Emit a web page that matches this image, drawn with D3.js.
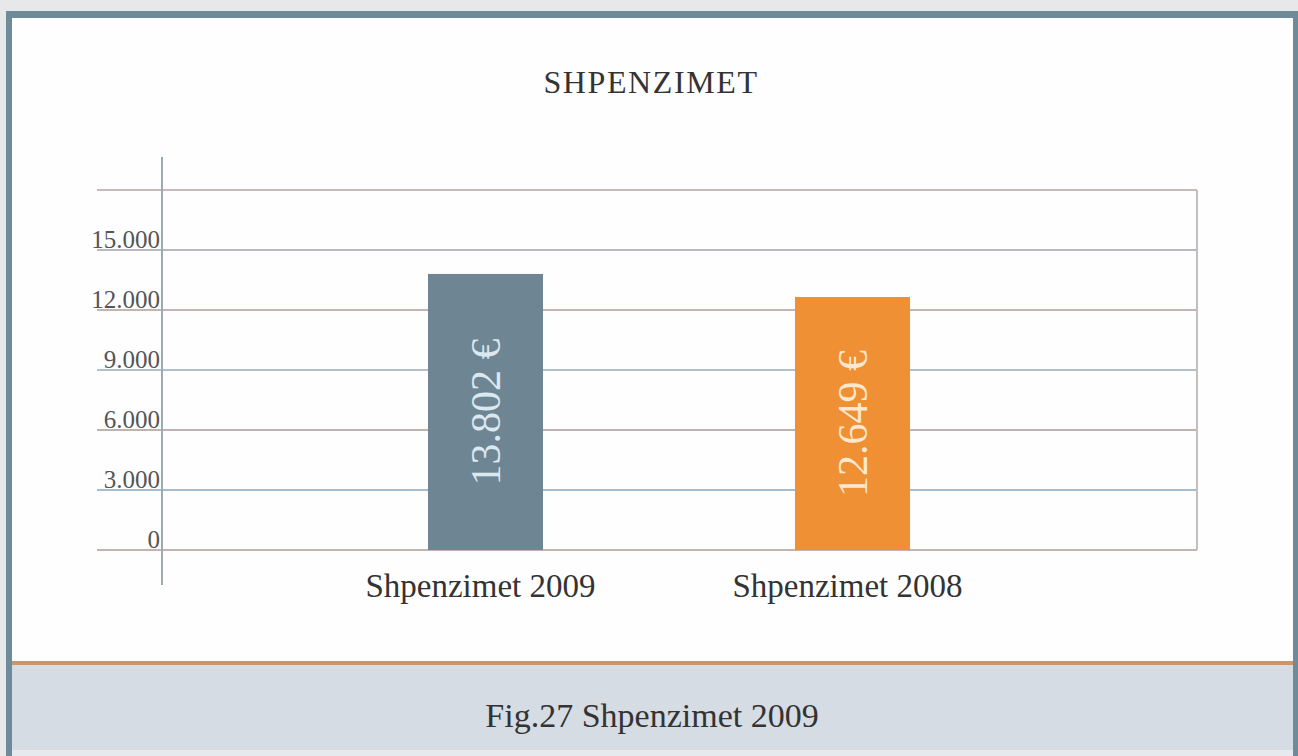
<!DOCTYPE html>
<html>
<head>
<meta charset="utf-8">
<script src="https://cdn.jsdelivr.net/npm/d3@7/dist/d3.min.js"></script>
<style>
  html, body { margin: 0; padding: 0; background: #e7e8ea; }
  svg { display: block; }
  text { font-family: "Liberation Serif", "DejaVu Serif", serif; }
</style>
</head>
<body>
<svg id="chart" width="1298" height="756"></svg>
<script>
// ---- data ----
const categories = ["Shpenzimet 2009", "Shpenzimet 2008"];
const values = [13802, 12649];
const valueLabels = ["13.802 €", "12.649 €"];
const tickValues = [0, 3000, 6000, 9000, 12000, 15000, 18000];
const tickLabels = ["0", "3.000", "6.000", "9.000", "12.000", "15.000", ""];
const title = "SHPENZIMET";
const caption = "Fig.27 Shpenzimet 2009";

// ---- layout ----
const W = 1298, H = 756;
const svg = d3.select("#chart");

// frame
svg.append("rect").attr("x", 0).attr("y", 0).attr("width", W).attr("height", H).attr("fill", "#e7e8ea");
svg.append("rect").attr("x", 6).attr("y", 11).attr("width", W - 6).attr("height", H - 11).attr("fill", "#6f8b99");
svg.append("rect").attr("x", 12).attr("y", 18).attr("width", 1281).attr("height", H - 18).attr("fill", "#fefefe");
// caption area
svg.append("rect").attr("x", 12).attr("y", 664).attr("width", 1281).attr("height", 86).attr("fill", "#d6dce3");
svg.append("rect").attr("x", 12).attr("y", 750).attr("width", 1281).attr("height", 6).attr("fill", "#e6e9ee");
svg.append("rect").attr("x", 12).attr("y", 661).attr("width", 1281).attr("height", 4).attr("fill", "#c9956c");

svg.append("text")
  .attr("x", 652).attr("y", 727)
  .attr("text-anchor", "middle")
  .attr("font-size", 34)
  .attr("fill", "#333")
  .text(caption);

// title
svg.append("text")
  .attr("x", 651).attr("y", 93)
  .attr("text-anchor", "middle")
  .attr("font-size", 32)
  .attr("letter-spacing", 1.6)
  .attr("fill", "#333")
  .text(title);

// scales
const y = d3.scaleLinear().domain([0, 18000]).range([550, 190]);
const x = d3.scaleBand().domain(categories).range([302, 1036]).paddingInner(0.6866).paddingOuter(0.3433);

const gridLeft = 97, axisX = 162, gridRight = 1197;
const gridColors = ["#c5b4ad", "#a9bccc", "#c0b3ae", "#b3c0ca", "#c6b5ae", "#b8b9be", "#c8bbb6"];

// gridlines
svg.append("g").selectAll("line").data(tickValues).join("line")
  .attr("x1", gridLeft).attr("x2", gridRight)
  .attr("y1", d => y(d)).attr("y2", d => y(d))
  .attr("stroke", (d, i) => gridColors[i])
  .attr("stroke-width", 2);

// right border of plot
svg.append("line")
  .attr("x1", gridRight).attr("x2", gridRight)
  .attr("y1", y(18000)).attr("y2", y(0))
  .attr("stroke", "#c3bfbf").attr("stroke-width", 2);

// y axis (labels via d3 axis, line drawn separately)
const yAxis = d3.axisLeft(y).tickValues(tickValues).tickSize(0).tickPadding(0)
  .tickFormat((d, i) => tickLabels[i]);
const gy = svg.append("g").attr("transform", `translate(${axisX - 2},0)`).call(yAxis);
gy.select(".domain").remove();
gy.selectAll("text")
  .attr("font-family", "Liberation Serif, DejaVu Serif, serif")
  .attr("font-size", 25)
  .attr("fill", "#555")
  .attr("dy", -3)
  .attr("dominant-baseline", "auto");

svg.append("line")
  .attr("x1", axisX).attr("x2", axisX)
  .attr("y1", 157).attr("y2", 585)
  .attr("stroke", "#9aabb8").attr("stroke-width", 2);

// bars
const barColors = ["#6e8593", "#ef9035"];
const labelColors = ["#dbe8f0", "#fde8cf"];
svg.append("g").selectAll("rect").data(values).join("rect")
  .attr("x", (d, i) => x(categories[i]))
  .attr("width", x.bandwidth())
  .attr("y", d => y(d))
  .attr("height", d => y(0) - y(d))
  .attr("fill", (d, i) => barColors[i]);

// value labels (rotated)
svg.append("g").selectAll("text").data(values).join("text")
  .attr("transform", (d, i) => {
    const cx = x(categories[i]) + x.bandwidth() / 2;
    const cy = (y(d) + y(0)) / 2;
    return `translate(${cx},${cy}) rotate(-90)`;
  })
  .attr("text-anchor", "middle")
  .attr("dominant-baseline", "central")
  .attr("font-size", 42)
  .attr("fill", (d, i) => labelColors[i])
  .text((d, i) => valueLabels[i]);

// x axis category labels
const xAxis = d3.axisBottom(x).tickSize(0).tickPadding(0);
const gx = svg.append("g").attr("transform", `translate(0,${y(0)})`).call(xAxis);
gx.select(".domain").remove();
gx.selectAll("text")
  .attr("font-family", "Liberation Serif, DejaVu Serif, serif")
  .attr("font-size", 33)
  .attr("fill", "#333")
  .attr("dy", 0)
  .attr("y", 47)
  .attr("dx", -5);
</script>
</body>
</html>
